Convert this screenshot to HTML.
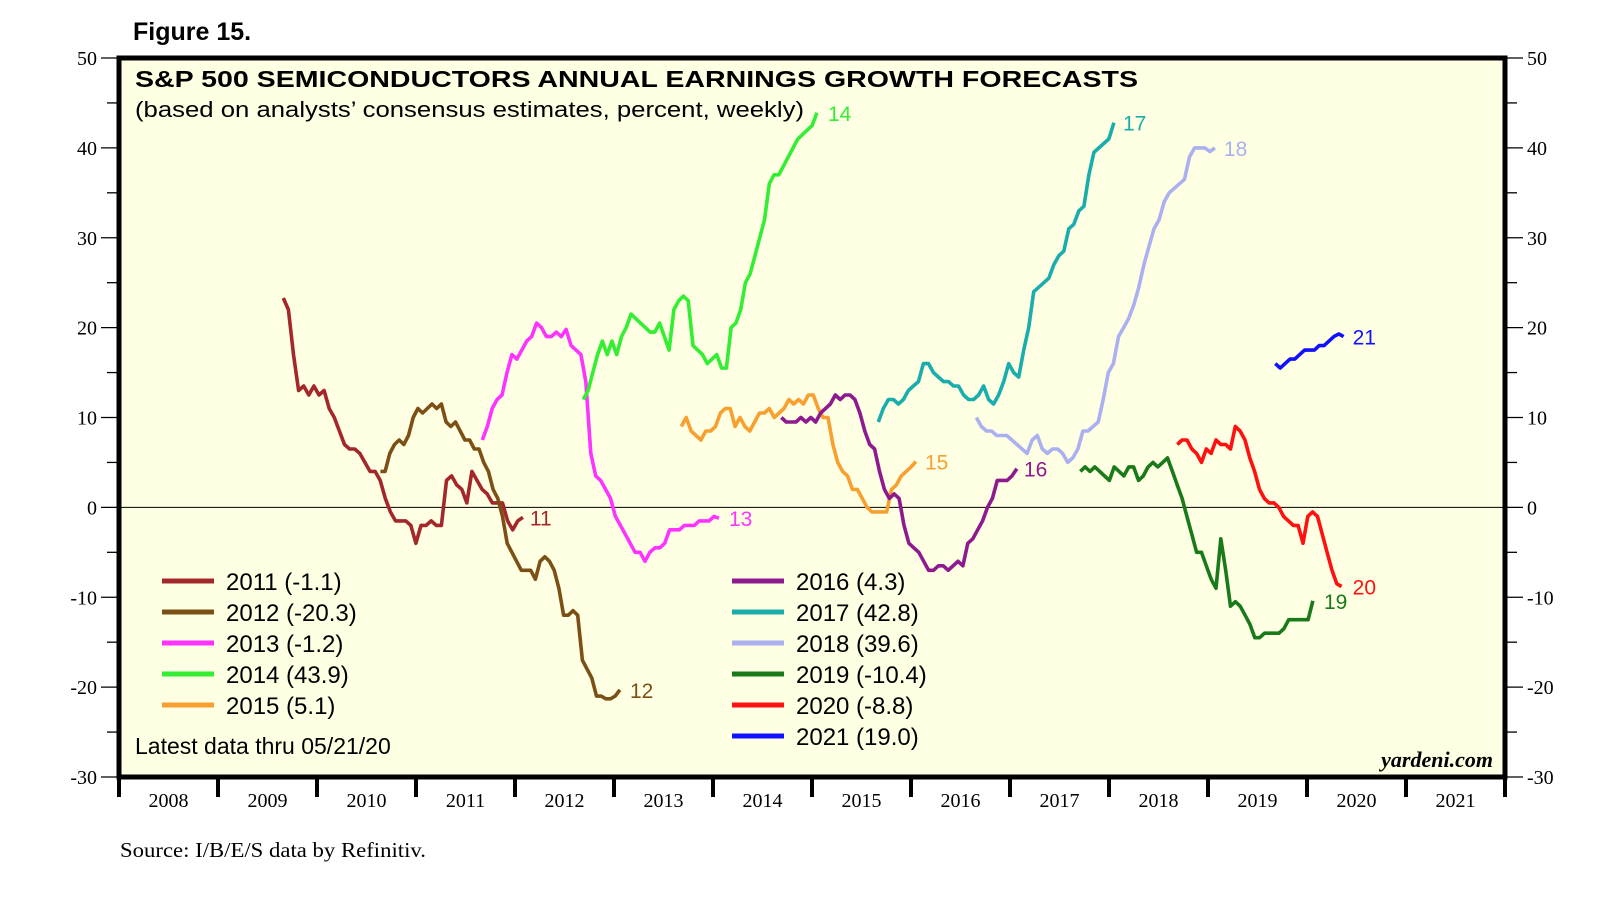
<!DOCTYPE html>
<html><head><meta charset="utf-8"><style>
html,body{margin:0;padding:0;background:#fff;}
svg{display:block;}
</style></head><body>
<svg id="chart" width="1612" height="910" viewBox="0 0 1612 910" xmlns="http://www.w3.org/2000/svg" font-family="Liberation Sans, sans-serif">
<rect x="0" y="0" width="1612" height="910" fill="#fff"/>
<text x="133" y="40" font-size="25" font-weight="bold">Figure 15.</text>
<rect x="119" y="58" width="1386" height="719" fill="#ffffe3"/>
<g id="series"></g>
<rect x="119" y="58" width="1386" height="719" fill="none" stroke="#000" stroke-width="5"/>
<text x="135" y="87" font-size="23" font-weight="bold" textLength="1003" lengthAdjust="spacingAndGlyphs">S&amp;P 500 SEMICONDUCTORS ANNUAL EARNINGS GROWTH FORECASTS</text>
<text x="135" y="117" font-size="22" textLength="669" lengthAdjust="spacingAndGlyphs">(based on analysts’ consensus estimates, percent, weekly)</text>
<text x="135" y="754" font-size="23">Latest data thru 05/21/20</text>
<text x="1493" y="767" font-size="22" font-weight="bold" font-style="italic" font-family="Liberation Serif, serif" text-anchor="end">yardeni.com</text>
<text x="120" y="857" font-size="21" font-family="Liberation Serif, serif" textLength="306" lengthAdjust="spacingAndGlyphs">Source: I/B/E/S data by Refinitiv.</text>
<g id="axes"></g>
<g id="legend"></g>
</svg>
<script>
const yTicks = [50, 40, 30, 20, 10, 0, -10, -20, -30];
const yearLabels = ['2008','2009','2010','2011','2012','2013','2014','2015','2016','2017','2018','2019','2020','2021'];
const seriesNames = ['2011','2012','2013','2014','2015','2016','2017','2018','2019','2020','2021'];
const seriesLatest = ['-1.1','-20.3','-1.2','43.9','5.1','4.3','42.8','39.6','-10.4','-8.8','19.0'];
const seriesStart = [2009.66, 2010.64, 2011.67, 2012.69, 2013.68, 2014.69, 2015.67, 2016.66, 2017.71, 2018.69, 2019.68];
const seriesEnd = [2012.08, 2013.06, 2014.06, 2015.05, 2016.05, 2017.07, 2018.05, 2019.07, 2020.06, 2020.35, 2020.37];
const v2011 = [23.3,22,17,13,13.5,12.5,13.5,12.5,13,11,10,8.5,7,6.5,6.5,6,5,4,4,3,1,-0.5,-1.5,-1.5,-1.5,-2,-4,-2,-2,-1.5,-2,-2,3,3.5,2.5,2,0.5,4,3,2,1.5,0.5,0.5,0.5,-1.5,-2.5,-1.5,-1.1];
const v2012 = [4,4,6,7,7.5,7,8,10,11,10.5,11,11.5,11,11.5,9.5,9,9.5,8.5,7.5,7.5,6.5,6.5,5,4,2,1,-1,-4,-5,-6,-7,-7,-7,-8,-6,-5.5,-6,-7,-9,-12,-12,-11.5,-12,-17,-18,-19,-21,-21,-21.3,-21.3,-21,-20.3];
const v2013 = [7.5,9,11,12,12.5,15,17,16.5,17.5,18.5,19,20.5,20,19,19,19.5,19,19.8,18,17.5,17,14,6,3.5,3,2,1,-1,-2,-3,-4,-5,-5,-6,-5,-4.5,-4.5,-4,-2.5,-2.5,-2.5,-2,-2,-2,-1.5,-1.5,-1.5,-1,-1.2];
const v2014 = [12,13,15,17,18.5,17,18.5,17,19,20,21.5,21,20.5,20,19.5,19.5,20.5,19,17.5,22,23,23.5,23,18,17.5,17,16,16.5,17,15.5,15.5,20,20.5,22,25,26,28,30,32,36,37,37,38,39,40,41,41.5,42,42.5,43.9];
const v2015 = [9,10,8.5,8,7.5,8.5,8.5,9,10.5,11,11,9,10,9,8.5,9.5,10.5,10.5,11,10,10.5,11,12,11.5,12,11.5,12.5,12.5,11,10,10,7,5,4,3.5,2,2,1,0,-0.5,-0.5,-0.5,-0.5,2,2.5,3.5,4,4.5,5.1];
const v2016 = [10,9.5,9.5,9.5,10,9.5,10,9.5,10.5,11,11.5,12.5,12,12.5,12.5,12,10.5,8.5,7,6.5,4,2,1,1.5,1,-2,-4,-4.5,-5,-6,-7,-7,-6.5,-6.5,-7,-6.5,-6,-6.5,-4,-3.5,-2.5,-1.5,0,1,3,3,3,3.5,4.3];
const v2017 = [9.5,11,12,12,11.5,12,13,13.5,14,16,16,15,14.5,14,14,13.5,13.5,12.5,12,12,12.5,13.5,12,11.5,12.5,14,16,15,14.5,17.5,20,24,24.5,25,25.5,27,28,28.5,31,31.5,33,33.5,37,39.5,40,40.5,41,42.8];
const v2018 = [10,9,8.5,8.5,8,8,8,7.5,7,6.5,6,7.5,8,6.5,6,6.5,6.5,6,5,5.5,6.5,8.5,8.5,9,9.5,12,15,16,19,20,21,22.5,24.5,27,29,31,32,34,35,35.5,36,36.5,39,40,40,40,39.6,40];
const v2019 = [4,4.5,4,4.5,4,3.5,3,4.5,4,3.5,4.5,4.5,3,3.5,4.5,5,4.5,5,5.5,4,2.5,1,-1,-3,-5,-5,-6.5,-8,-9,-3.5,-7,-11,-10.5,-11,-12,-13,-14.5,-14.5,-14,-14,-14,-14,-13.5,-12.5,-12.5,-12.5,-12.5,-12.5,-10.4];
const v2020 = [7,7.5,7.5,6.5,6,5,6.5,6,7.5,7,7,6.5,9,8.5,7.5,5.5,4,2,1,0.5,0.5,0,-1,-1.5,-2,-2,-4,-1,-0.5,-1,-3,-5,-7,-8.5,-8.8];
const v2021 = [16,15.5,16,16.5,16.5,17,17.5,17.5,17.5,18,18,18.5,19,19.3,19];
const seriesValues = [v2011,v2012,v2013,v2014,v2015,v2016,v2017,v2018,v2019,v2020,v2021];
const seriesColors = ['#a3282b','#7c5014','#ff33ff','#33ee33','#f7a030','#8e1a90','#1aadad','#aab0f0','#1a7a1a','#ff1111','#1111ff'];
const labelDx = [7,10,10,11,9,7,9,9,11,11,9];
const labelDy = [0,0,0,0,0,0,0,0,0,0,0];

const NS = 'http://www.w3.org/2000/svg';
const X0 = 119, X1 = 1505, Y0 = 58, Y1 = 777;
function xScale(yr){ return X0 + (yr - 2008) * (X1 - X0) / 14; }
function yScale(v){ return Y0 + (50 - v) * (Y1 - Y0) / 80; }
function mk(tag, attrs, parent){ const e = document.createElementNS(NS, tag); for (const k in attrs) e.setAttribute(k, attrs[k]); parent.appendChild(e); return e; }

const axes = document.getElementById('axes');
let zl = mk('line', {x1:X0, x2:X1, y1:yScale(0), y2:yScale(0), stroke:'#000', 'stroke-width':1}, document.getElementById('series'));


for (let v = -30; v <= 50; v += 5) {
  const y = yScale(v), major = v % 10 === 0;
  const lt = mk('line', {x1: major ? X0-18 : X0-12, x2: X0, y1: y, y2: y, stroke:'#000', 'stroke-width':1.3}, axes);
  
  
  const rt = mk('line', {x1: X1, x2: major ? X1+18 : X1+12, y1: y, y2: y, stroke:'#000', 'stroke-width':1.3}, axes);
  
  
}
yTicks.forEach(v => {
  const y = yScale(v);
  const l = mk('text', {x: X0-22, y: y+7, 'font-size':20, 'font-family':'Liberation Serif, serif', 'text-anchor':'end'}, axes);
  l.textContent = String(v);
  
  
  const r = mk('text', {x: X1+22, y: y+7, 'font-size':20, 'font-family':'Liberation Serif, serif'}, axes);
  r.textContent = String(v);
  
  
});
for (let i = 0; i <= 14; i++) {
  const x = xScale(2008 + i);
  const t = mk('line', {x1:x, x2:x, y1:Y1, y2:Y1+20, stroke:'#000', 'stroke-width':4}, axes);
  
  
}
yearLabels.forEach((lab, i) => {
  const t = mk('text', {x: xScale(2008 + i + 0.5), y: 807, 'font-size':20, 'font-family':'Liberation Serif, serif', 'text-anchor':'middle'}, axes);
  t.textContent = lab;
  
  
});
const sg = document.getElementById('series');
seriesValues.forEach((vals, s) => {
  const n = vals.length - 1;
  const st = (seriesEnd[s] - seriesStart[s]) / n;
  const pts = vals.map((v, i) => xScale(seriesStart[s] + i * st).toFixed(1) + ',' + yScale(v).toFixed(1)).join(' ');
  const p = mk('polyline', {points: pts, fill:'none', stroke: seriesColors[s], 'stroke-width':3.6, 'stroke-linejoin':'round'}, sg);
  
  
  const lx = xScale(seriesEnd[s]) + labelDx[s];
  const ly = yScale(vals[n]) + labelDy[s];
  const t = mk('text', {x: lx, y: ly + 8, 'font-size':21, fill: seriesColors[s]}, sg);
  t.textContent = seriesNames[s].slice(2);
  
  
});
const lg = document.getElementById('legend');
seriesNames.forEach((n, s) => {
  const col = s < 5 ? 0 : 1, row = s < 5 ? s : s - 5;
  const lx = col ? 732 : 162, y = 581 + row * 31;
  const ln = mk('line', {x1: lx, x2: lx + 52, y1: y, y2: y, stroke: seriesColors[s], 'stroke-width':5}, lg);
  
  
  const t = mk('text', {x: lx + 64, y: y + 9, 'font-size':24}, lg);
  t.textContent = n + ' (' + seriesLatest[s] + ')';
  
  
});
</script>
</body></html>
